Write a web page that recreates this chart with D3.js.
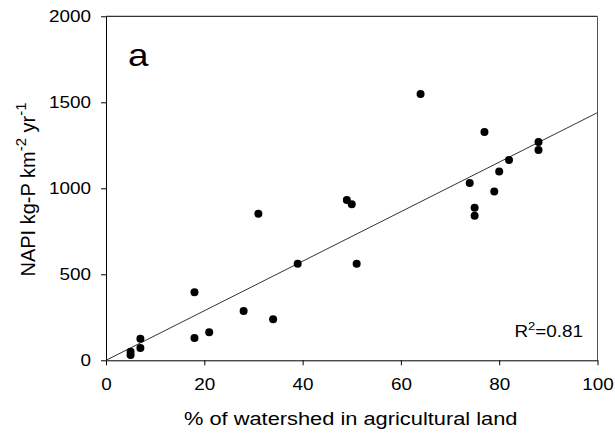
<!DOCTYPE html>
<html>
<head>
<meta charset="utf-8">
<script src="https://cdn.jsdelivr.net/npm/d3@7"></script>
<style>
  html, body { margin: 0; padding: 0; background: #fff; }
  svg { display: block; }
  text { font-family: "Liberation Sans", Arial, sans-serif; fill: #000; }
</style>
</head>
<body>
<svg id="chart" width="615" height="433"></svg>
<script>
// Data
const agriPercent = [5, 5, 7, 7, 18, 18, 21, 28, 31, 34, 39, 49, 50, 51, 64, 74, 75, 75, 77, 79, 80, 82, 88, 88];
const napiValues  = [50, 31, 126, 72, 395, 130, 163, 287, 852, 238, 562, 932, 907, 562, 1548, 1031, 887, 841, 1327, 982, 1097, 1165, 1269, 1223];
const xTicks = [0, 20, 40, 60, 80, 100];
const yTicks = [0, 500, 1000, 1500, 2000];
const fitSlope = 14.4;
const fitIntercept = 0;
const rSquared = "0.81";
const panelLabel = "a";

const svg = d3.select("#chart");
const mLeft = 106, mRight = 597.5, mTop = 16.3, mBottom = 360.3;
const sx = 1.18; // horizontal stretch of the reference's lettering

const x = d3.scaleLinear().domain([0, 100]).range([mLeft, mRight]);
const y = d3.scaleLinear().domain([0, 2000]).range([mBottom, mTop]);

// frame top & right
svg.append("line").attr("x1", mLeft).attr("x2", mRight).attr("y1", mTop).attr("y2", mTop)
  .attr("stroke", "#000").attr("stroke-width", 1);
svg.append("line").attr("x1", mRight).attr("x2", mRight).attr("y1", mTop).attr("y2", mBottom)
  .attr("stroke", "#555").attr("stroke-width", 1);

// axes
const xAxis = svg.append("g").attr("transform", `translate(0,${mBottom})`)
  .call(d3.axisBottom(x).tickValues(xTicks).tickFormat(d3.format("d")).tickSizeInner(5).tickSizeOuter(0));
const yAxis = svg.append("g").attr("transform", `translate(${mLeft},0)`)
  .call(d3.axisLeft(y).tickValues(yTicks).tickFormat(d3.format("d")).tickSizeInner(5).tickSizeOuter(0));
[xAxis, yAxis].forEach(g => {
  g.select(".domain").attr("stroke", "#000").attr("stroke-width", 1);
  g.selectAll(".tick line").attr("stroke", "#000");
  g.selectAll(".tick text").attr("font-size", 16).attr("font-family", "Liberation Sans, Arial, sans-serif").attr("fill", "#000");
});
xAxis.selectAll(".tick text").attr("y", 0).attr("dy", 0)
  .attr("transform", `translate(0,30) scale(${sx},1)`);
yAxis.selectAll(".tick text").attr("x", 0)
  .attr("transform", `translate(-15,0) scale(${sx},1)`);

// regression line
svg.append("line")
  .attr("x1", x(0)).attr("y1", y(fitIntercept))
  .attr("x2", x(100)).attr("y2", y(fitIntercept + fitSlope * 100))
  .attr("stroke", "#333").attr("stroke-width", 1);

// points
svg.append("g").selectAll("circle")
  .data(agriPercent.map((d, i) => [d, napiValues[i]]))
  .join("circle")
  .attr("cx", d => x(d[0])).attr("cy", d => y(d[1]))
  .attr("r", 4).attr("fill", "#000");

// panel label
svg.append("text").attr("transform", `translate(128,65.5) scale(1.15,1)`).attr("font-size", 32).text(panelLabel);

// R^2
const r2 = svg.append("text").attr("transform", `translate(583,337) scale(${sx},1)`)
  .attr("text-anchor", "end").attr("font-size", 16);
r2.append("tspan").text("R");
r2.append("tspan").attr("dy", -7).attr("font-size", 11).text("2");
r2.append("tspan").attr("dy", 7).text("=" + rSquared);

// x title
svg.append("text").attr("transform", `translate(${(mLeft + mRight) / 2 - 1},425) scale(${sx},1)`)
  .attr("text-anchor", "middle").attr("font-size", 18.5).text("% of watershed in agricultural land");

// y title
const yt = svg.append("text").attr("transform", `translate(35,189.5) rotate(-90)`)
  .attr("text-anchor", "middle").attr("font-size", 20);
yt.append("tspan").text("NAPI kg-P km");
yt.append("tspan").attr("dy", -9).attr("font-size", 15).text("-2");
yt.append("tspan").attr("dy", 9).text(" yr");
yt.append("tspan").attr("dy", -9).attr("font-size", 15).text("-1");
</script>
</body>
</html>
